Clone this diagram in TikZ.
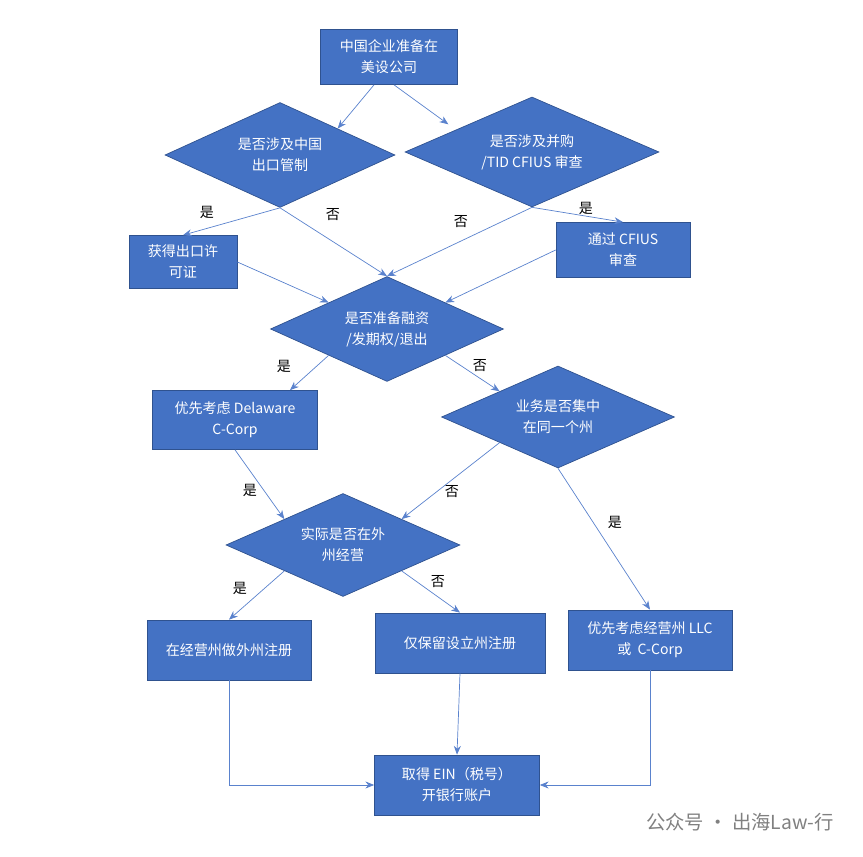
\documentclass[tikz,border=0pt]{standalone}
\usepackage{fontspec}
\setmainfont{Noto Sans CJK SC}
\usepackage{tikz}
\usetikzlibrary{arrows.meta}
\usetikzlibrary{shapes.geometric}
\definecolor{boxblue}{RGB}{68, 114, 196}
\definecolor{edgeblue}{RGB}{47, 82, 143}
\definecolor{linkblue}{RGB}{90, 130, 205}
\tikzset{
  stepbox/.style={draw=edgeblue, fill=boxblue, text=white, align=center, inner sep=0pt, font=\fontsize{8}{12}\selectfont},
  askbox/.style={diamond, aspect=3, draw=edgeblue, fill=boxblue, text=white, align=center, inner sep=0pt, font=\fontsize{8}{12}\selectfont},
  link/.style={draw=linkblue, -{Stealth[length=5pt,width=4pt]}},
  yesno/.style={font=\fontsize{8}{10}\selectfont}
}

\begin{document}
\begin{tikzpicture}[x=0.02cm, y=-0.02cm]
            \useasboundingbox (0,0) rectangle (863,857);
            % boxes
            \node[stepbox, minimum width=2.74cm, minimum height=1.10cm] (start) at (389,57)  {中国企业准备在\\美设公司};
            \node[askbox,  minimum width=4.60cm, minimum height=2.10cm] (export) at (280,155) {是否涉及中国\\出口管制};
            \node[askbox,  minimum width=5.08cm, minimum height=2.20cm] (cfius)  at (532,152) {是否涉及并购\\/TID CFIUS 审查};
            \node[stepbox, minimum width=2.16cm, minimum height=1.06cm] (permit) at (183,262) {获得出口许\\可证};
            \node[stepbox, minimum width=2.68cm, minimum height=1.10cm] (review) at (623,250) {通过 CFIUS\\审查};
            \node[askbox,  minimum width=4.66cm, minimum height=2.10cm] (funding) at (387,329) {是否准备融资\\/发期权/退出};
            \node[stepbox, minimum width=3.30cm, minimum height=1.18cm] (delaware) at (235,420) {优先考虑 Delaware\\C-Corp};
            \node[askbox,  minimum width=4.66cm, minimum height=2.04cm] (onestate) at (558,417) {业务是否集中\\在同一个州};
            \node[askbox,  minimum width=4.68cm, minimum height=2.06cm] (outside) at (343,545) {实际是否在外\\州经营};
            \node[stepbox, minimum width=3.28cm, minimum height=1.20cm] (foreign) at (229,650) {在经营州做外州注册};
            \node[stepbox, minimum width=3.40cm, minimum height=1.20cm] (home) at (460,643) {仅保留设立州注册};
            \node[stepbox, minimum width=3.28cm, minimum height=1.20cm] (llc) at (650,640) {优先考虑经营州 LLC\\或\ \ C-Corp};
            \node[stepbox, minimum width=3.30cm, minimum height=1.20cm] (ein) at (457,785) {取得 EIN（税号）\\开银行账户};
            % connectors
            \draw[link] ([xshift=-0.3cm]start.south) -- (export.north east);
            \draw[link] ([xshift=0.1cm]start.south) -- ([xshift=-0.4cm]cfius.north west);
            \draw[link] (export.south) -- (permit.north);
            \draw[link] (export.south) -- (funding.north);
            \draw[link] (cfius.south) -- (funding.north);
            \draw[link] (cfius.south) -- (review.north);
            \draw[link] (permit.east) -- (funding.north west);
            \draw[link] (review.west) -- (funding.north east);
            \draw[link] (funding.south west) -- ([xshift=1.1cm]delaware.north);
            \draw[link] (funding.south east) -- (onestate.north west);
            \draw[link] (delaware.south) -- (outside.north west);
            \draw[link] (onestate.south west) -- (outside.north east);
            \draw[link] (onestate.south) -- (llc.north);
            \draw[link] (outside.south west) -- (foreign.north);
            \draw[link] (outside.south east) -- (home.north);
            \draw[link] (foreign.south) |- (ein.west);
            \draw[link] (home.south) -- (ein.north);
            \draw[link] (llc.south) |- (ein.east);
            % labels
            \node[yesno] (y1) at (207,212) {是};
            \node[yesno] (n1) at (333,215) {否};
            \node[yesno] (n2) at (461,222) {否};
            \node[yesno] (y2) at (586,208) {是};
            \node[yesno] (y3) at (284,366) {是};
            \node[yesno] (n3) at (480,366) {否};
            \node[yesno] (y4) at (250,490) {是};
            \node[yesno] (n4) at (452,492) {否};
            \node[yesno] (y5) at (615,522) {是};
            \node[yesno] (y6) at (240,588) {是};
            \node[yesno] (n5) at (438,582) {否};
            \node[text=gray, font=\fontsize{11}{13}\selectfont, anchor=east] (mark) at (840,822) {公众号 · 出海Law-行};
        \end{tikzpicture}
\end{document}
